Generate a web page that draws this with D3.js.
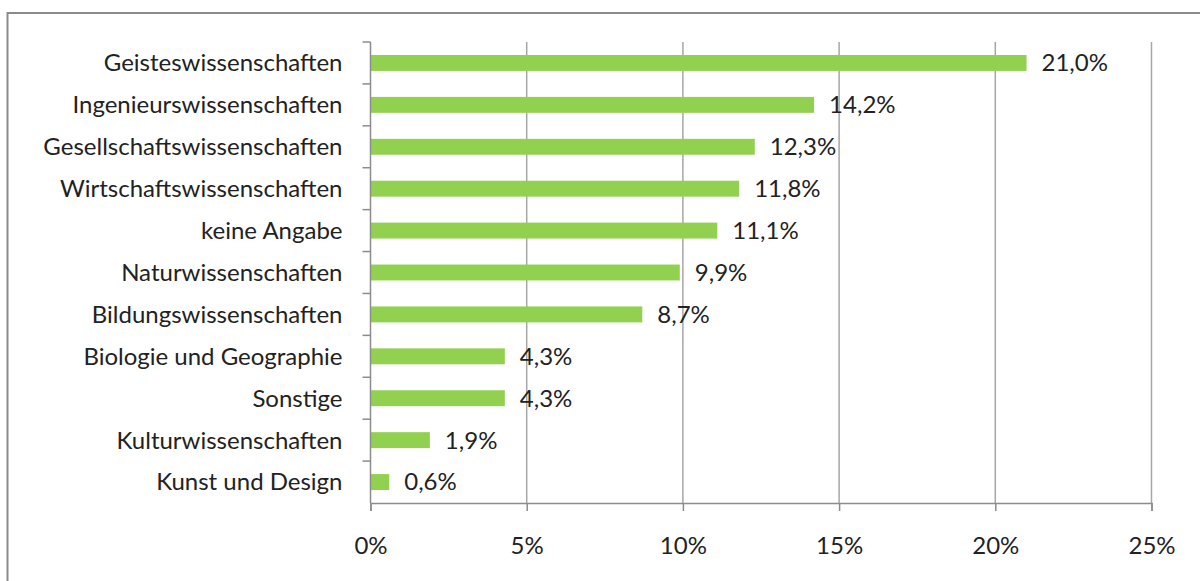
<!DOCTYPE html>
<html>
<head>
<meta charset="utf-8">
<script src="https://cdn.jsdelivr.net/npm/d3@7"></script>
<style>
  body { margin: 0; background: #fff; }
  svg text { font-family: Lato, "Open Sans", sans-serif; fill: #222; }
</style>
</head>
<body>
<svg id="canvas" width="1200" height="581"></svg>
<script>
// data (share in %)
const categories = [
  "Geisteswissenschaften",
  "Ingenieurswissenschaften",
  "Gesellschaftswissenschaften",
  "Wirtschaftswissenschaften",
  "keine Angabe",
  "Naturwissenschaften",
  "Bildungswissenschaften",
  "Biologie und Geographie",
  "Sonstige",
  "Kulturwissenschaften",
  "Kunst und Design",
];
const values = [21.0, 14.2, 12.3, 11.8, 11.1, 9.9, 8.7, 4.3, 4.3, 1.9, 0.6];
const xTicks = [0, 5, 10, 15, 20, 25];

const canvas = d3.select("#canvas");
const fontSize = 24;

// outer frame (only top and left edges are inside the picture)
canvas
  .append("rect")
  .attr("x", 7.5)
  .attr("y", 13)
  .attr("width", 1300)
  .attr("height", 700)
  .attr("fill", "none")
  .attr("stroke", "#8c8c8c")
  .attr("stroke-width", 2);

const plot = { left: 370.5, right: 1151.5, top: 42, bottom: 503 };

const xScale = d3.scaleLinear().domain([0, 25]).range([plot.left, plot.right]);
const yScale = d3
  .scaleBand()
  .domain(categories)
  .range([plot.top, plot.bottom])
  .paddingInner(0.62)
  .paddingOuter(0.31);

const rows = categories.map((name, i) => ({ name: name, value: values[i] }));

// vertical gridlines
canvas
  .append("g")
  .selectAll("line")
  .data(xTicks.slice(1))
  .enter()
  .append("line")
  .attr("x1", (t) => xScale(t))
  .attr("x2", (t) => xScale(t))
  .attr("y1", plot.top)
  .attr("y2", plot.bottom)
  .attr("stroke", "#a6a6a6")
  .attr("stroke-width", 1.5);

// bars
canvas
  .append("g")
  .selectAll("rect")
  .data(rows)
  .enter()
  .append("rect")
  .attr("x", xScale(0))
  .attr("y", (d) => yScale(d.name))
  .attr("width", (d) => xScale(d.value) - xScale(0))
  .attr("height", yScale.bandwidth())
  .attr("fill", "#92d050");

// x axis
const xAxis = d3
  .axisBottom(xScale)
  .tickValues(xTicks)
  .tickSize(8)
  .tickPadding(26)
  .tickFormat((t) => t + "%");

const gx = canvas
  .append("g")
  .attr("transform", `translate(0, ${plot.bottom})`)
  .call(xAxis);
gx.select(".domain").attr("stroke", "#8c8c8c").attr("stroke-width", 1.5);
gx.selectAll(".tick line").attr("stroke", "#8c8c8c").attr("stroke-width", 1.5);
gx.selectAll(".tick text")
  .attr("font-size", fontSize)
  .attr("fill", "#222")
  .attr("font-family", "Lato, sans-serif");

// y axis with ticks between categories
canvas
  .append("line")
  .attr("x1", plot.left)
  .attr("x2", plot.left)
  .attr("y1", plot.top)
  .attr("y2", plot.bottom)
  .attr("stroke", "#8c8c8c")
  .attr("stroke-width", 1.5);

const step = yScale.step();
canvas
  .append("g")
  .selectAll("line")
  .data(d3.range(categories.length))
  .enter()
  .append("line")
  .attr("x1", plot.left - 8)
  .attr("x2", plot.left)
  .attr("y1", (i) => yScale(categories[i]) - step * 0.31)
  .attr("y2", (i) => yScale(categories[i]) - step * 0.31)
  .attr("stroke", "#8c8c8c")
  .attr("stroke-width", 1.5);

// category labels
canvas
  .append("g")
  .selectAll("text")
  .data(rows)
  .enter()
  .append("text")
  .text((d) => d.name)
  .attr("x", plot.left - 28)
  .attr("y", (d) => yScale(d.name) + yScale.bandwidth() / 2)
  .attr("dy", "0.35em")
  .attr("text-anchor", "end")
  .attr("font-size", fontSize);

// value labels
canvas
  .append("g")
  .selectAll("text")
  .data(rows)
  .enter()
  .append("text")
  .text((d) => d.value.toFixed(1).replace(".", ",") + "%")
  .attr("x", (d) => xScale(d.value) + 15)
  .attr("y", (d) => yScale(d.name) + yScale.bandwidth() / 2)
  .attr("dy", "0.35em")
  .attr("font-size", fontSize);
</script>
</body>
</html>
